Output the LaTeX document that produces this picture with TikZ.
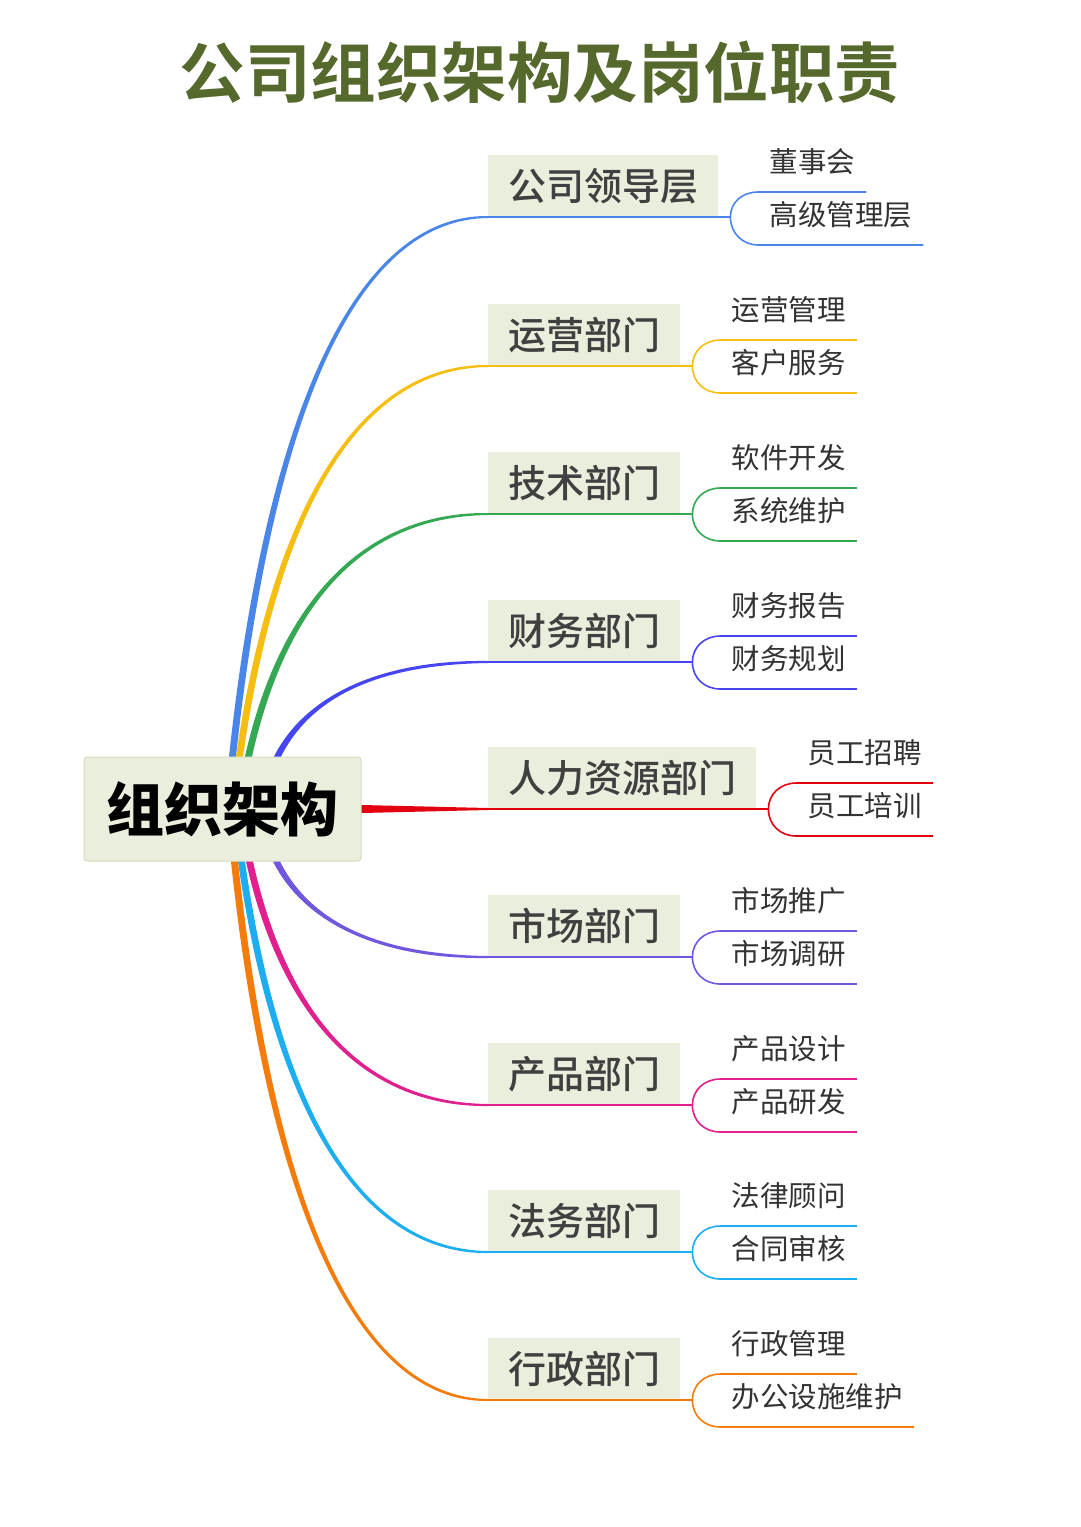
\documentclass[tikz,border=0pt]{standalone}
\usepackage{fontspec}
\setmainfont{Noto Sans CJK SC}
\newfontfamily\cjkbold{Noto Sans CJK SC Bold}
\newfontfamily\cjkblack{Noto Sans CJK SC Black}
\newfontfamily\cjkmid{Noto Sans CJK SC Medium}
\usetikzlibrary{calc}
\definecolor{mybox}{HTML}{EAEEDD}
\definecolor{myboxline}{HTML}{D6DDBB}
\definecolor{myolive}{HTML}{56692C}
\definecolor{mydept}{HTML}{404040}
\definecolor{myleaf}{HTML}{333333}
\definecolor{leadc}{HTML}{4A86E8}
\definecolor{opsc}{HTML}{F6BE11}
\definecolor{techc}{HTML}{34A853}
\definecolor{finc}{HTML}{4646F0}
\definecolor{hrc}{HTML}{E3000F}
\definecolor{mktc}{HTML}{7057DD}
\definecolor{prodc}{HTML}{E0208E}
\definecolor{lawc}{HTML}{1CAEF0}
\definecolor{admc}{HTML}{F57C0A}
% 先が細くなる枝 (#1 始点, #2 部門ノード, #3 色, #4 上=1 下=-1)
\newcommand{\taper}[4]{%
  \fill[#3] ($(#1)+(-3.5,0)$)
    .. controls ($(#1)!0.6!(#1 |- #2.south west)!0.15!(#2.south west)+(-3.5,0)$) and ($(#2.south west)!0.5!(#2.south west -| #1)+(0,{-2.5*(#4)})$)
    .. ($(#2.south west)+(0,{-1*(#4)})$) -- ($(#2.south west)+(0,{1*(#4)})$)
    .. controls ($(#2.south west)!0.5!(#2.south west -| #1)+(0,{2.5*(#4)})$) and ($(#1)!0.6!(#1 |- #2.south west)!0.15!(#2.south west)+(3.5,0)$)
    .. ($(#1)+(3.5,0)$) -- cycle;}

\begin{document}
\begin{tikzpicture}[x=1pt, y=-1pt,
    title/.style={font=\cjkbold\fontsize{65.5}{70}\selectfont, text=myolive, inner sep=0pt},
    root/.style={draw=myboxline, fill=mybox, line width=1pt, rounded corners=3pt,
      minimum width=277pt, minimum height=104pt, inner sep=0pt,
      text height=48pt, text depth=4pt, font=\cjkblack\fontsize{58}{60}\selectfont},
    dept/.style={fill=mybox, anchor=south west, minimum height=62pt, inner xsep=20pt,
      inner ysep=0pt, text height=31.5pt, text depth=2.7pt, text=mydept,
      font=\cjkmid\fontsize{38}{40}\selectfont},
    leaf/.style={anchor=south west, inner xsep=11pt, inner ysep=0pt,
      text height=24pt, text depth=19.2pt, text=myleaf, font=\fontsize{28.5}{30}\selectfont},
    under/.style={line width=2pt},
    twig/.style={line width=1.6pt}]
    \fill[white] (0,0) rectangle (1080,1527);
    \useasboundingbox (0,0) rectangle (1080,1527);

    % タイトルと中心
    \node[title] (t) at (540,72) {公司组织架构及岗位职责};
    \node[root] (r) at (222.5,809) {组织架构};

    % 部門
    \node[dept] (lead) at (488,217) {公司领导层};
    \node[dept] (ops) at (488,366) {运营部门};
    \node[dept] (tech) at (488,514) {技术部门};
    \node[dept] (fin) at (488,662) {财务部门};
    \node[dept] (hr) at (488,809) {人力资源部门};
    \node[dept] (mkt) at (488,957) {市场部门};
    \node[dept] (prod) at (488,1105) {产品部门};
    \node[dept] (law) at (488,1252) {法务部门};
    \node[dept] (adm) at (488,1400) {行政部门};

    % 分岐点
    \coordinate (jlead) at ([xshift=12pt]lead.south east);
    \coordinate (jops) at ([xshift=12pt]ops.south east);
    \coordinate (jtech) at ([xshift=12pt]tech.south east);
    \coordinate (jfin) at ([xshift=12pt]fin.south east);
    \coordinate (jhr) at ([xshift=12pt]hr.south east);
    \coordinate (jmkt) at ([xshift=12pt]mkt.south east);
    \coordinate (jprod) at ([xshift=12pt]prod.south east);
    \coordinate (jlaw) at ([xshift=12pt]law.south east);
    \coordinate (jadm) at ([xshift=12pt]adm.south east);

    % 職責
    \node[leaf] (lead1) at ([xshift=28pt,yshift=25pt]jlead) {董事会};
    \node[leaf] (lead2) at ([xshift=28pt,yshift=-28pt]jlead) {高级管理层};
    \node[leaf] (ops1) at ([xshift=28pt,yshift=26pt]jops) {运营管理};
    \node[leaf] (ops2) at ([xshift=28pt,yshift=-27pt]jops) {客户服务};
    \node[leaf] (tech1) at ([xshift=28pt,yshift=26pt]jtech) {软件开发};
    \node[leaf] (tech2) at ([xshift=28pt,yshift=-27pt]jtech) {系统维护};
    \node[leaf] (fin1) at ([xshift=28pt,yshift=26pt]jfin) {财务报告};
    \node[leaf] (fin2) at ([xshift=28pt,yshift=-27pt]jfin) {财务规划};
    \node[leaf] (hr1) at ([xshift=28pt,yshift=26pt]jhr) {员工招聘};
    \node[leaf] (hr2) at ([xshift=28pt,yshift=-27pt]jhr) {员工培训};
    \node[leaf] (mkt1) at ([xshift=28pt,yshift=26pt]jmkt) {市场推广};
    \node[leaf] (mkt2) at ([xshift=28pt,yshift=-27pt]jmkt) {市场调研};
    \node[leaf] (prod1) at ([xshift=28pt,yshift=26pt]jprod) {产品设计};
    \node[leaf] (prod2) at ([xshift=28pt,yshift=-27pt]jprod) {产品研发};
    \node[leaf] (law1) at ([xshift=28pt,yshift=26pt]jlaw) {法律顾问};
    \node[leaf] (law2) at ([xshift=28pt,yshift=-27pt]jlaw) {合同审核};
    \node[leaf] (adm1) at ([xshift=28pt,yshift=26pt]jadm) {行政管理};
    \node[leaf] (adm2) at ([xshift=28pt,yshift=-27pt]jadm) {办公设施维护};

    % 中心から部門への枝
    \coordinate (slead) at ([xshift=10pt]r.north);
    \coordinate (sops) at ([xshift=17pt]r.north);
    \coordinate (stech) at ([xshift=26pt]r.north);
    \coordinate (sfin) at ([xshift=55pt]r.north);
    \coordinate (smkt) at ([xshift=54pt]r.south);
    \coordinate (sprod) at ([xshift=27pt]r.south);
    \coordinate (slaw) at ([xshift=19pt]r.south);
    \coordinate (sadm) at ([xshift=12pt]r.south);
    \taper{slead}{lead}{leadc}{1}
    \taper{sops}{ops}{opsc}{1}
    \taper{stech}{tech}{techc}{1}
    \taper{sfin}{fin}{finc}{1}
    \taper{smkt}{mkt}{mktc}{-1}
    \taper{sprod}{prod}{prodc}{-1}
    \taper{slaw}{law}{lawc}{-1}
    \taper{sadm}{adm}{admc}{-1}
    \fill[hrc] ([yshift=4pt]r.east) -- ([yshift=1pt]hr.south west)
      -- ([yshift=-1pt]hr.south west) -- ([yshift=-4pt]r.east) -- cycle;

    % 下線と職責への分岐
    \draw[leadc, under] (lead.south west) -- (jlead);
    \draw[leadc, twig] (jlead) .. controls +(0,-15) and +(-16,0) .. (lead1.south west) -- (lead1.south east);
    \draw[leadc, twig] (jlead) .. controls +(0,16) and +(-16,0) .. (lead2.south west) -- (lead2.south east);
    \draw[opsc, under] (ops.south west) -- (jops);
    \draw[opsc, twig] (jops) .. controls +(0,-15) and +(-16,0) .. (ops1.south west) -- (ops1.south east);
    \draw[opsc, twig] (jops) .. controls +(0,16) and +(-16,0) .. (ops2.south west) -- (ops2.south east);
    \draw[techc, under] (tech.south west) -- (jtech);
    \draw[techc, twig] (jtech) .. controls +(0,-15) and +(-16,0) .. (tech1.south west) -- (tech1.south east);
    \draw[techc, twig] (jtech) .. controls +(0,16) and +(-16,0) .. (tech2.south west) -- (tech2.south east);
    \draw[finc, under] (fin.south west) -- (jfin);
    \draw[finc, twig] (jfin) .. controls +(0,-15) and +(-16,0) .. (fin1.south west) -- (fin1.south east);
    \draw[finc, twig] (jfin) .. controls +(0,16) and +(-16,0) .. (fin2.south west) -- (fin2.south east);
    \draw[hrc, under] (hr.south west) -- (jhr);
    \draw[hrc, twig] (jhr) .. controls +(0,-15) and +(-16,0) .. (hr1.south west) -- (hr1.south east);
    \draw[hrc, twig] (jhr) .. controls +(0,16) and +(-16,0) .. (hr2.south west) -- (hr2.south east);
    \draw[mktc, under] (mkt.south west) -- (jmkt);
    \draw[mktc, twig] (jmkt) .. controls +(0,-15) and +(-16,0) .. (mkt1.south west) -- (mkt1.south east);
    \draw[mktc, twig] (jmkt) .. controls +(0,16) and +(-16,0) .. (mkt2.south west) -- (mkt2.south east);
    \draw[prodc, under] (prod.south west) -- (jprod);
    \draw[prodc, twig] (jprod) .. controls +(0,-15) and +(-16,0) .. (prod1.south west) -- (prod1.south east);
    \draw[prodc, twig] (jprod) .. controls +(0,16) and +(-16,0) .. (prod2.south west) -- (prod2.south east);
    \draw[lawc, under] (law.south west) -- (jlaw);
    \draw[lawc, twig] (jlaw) .. controls +(0,-15) and +(-16,0) .. (law1.south west) -- (law1.south east);
    \draw[lawc, twig] (jlaw) .. controls +(0,16) and +(-16,0) .. (law2.south west) -- (law2.south east);
    \draw[admc, under] (adm.south west) -- (jadm);
    \draw[admc, twig] (jadm) .. controls +(0,-15) and +(-16,0) .. (adm1.south west) -- (adm1.south east);
    \draw[admc, twig] (jadm) .. controls +(0,16) and +(-16,0) .. (adm2.south west) -- (adm2.south east);
\end{tikzpicture}
\end{document}
